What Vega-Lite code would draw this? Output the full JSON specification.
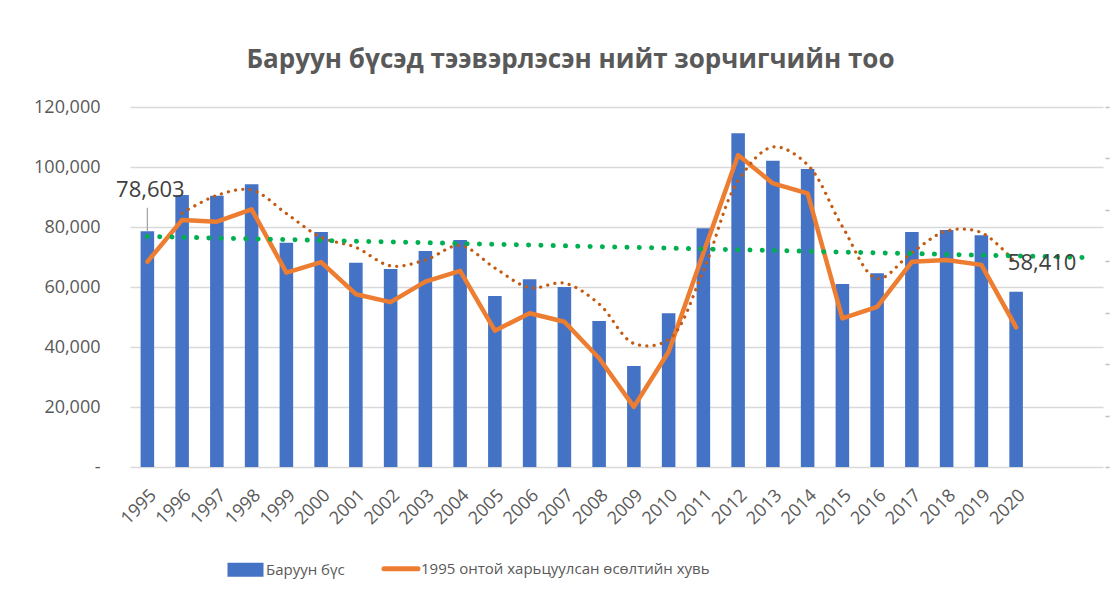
{
  "$schema": "https://vega.github.io/schema/vega-lite/v6.json",
  "width": 973,
  "height": 360,
  "autosize": "none",
  "padding": {"left": 130, "top": 107, "right": 17, "bottom": 134},
  "background": "white",
  "config": {
    "view": {"stroke": null},
    "font": "Open Sans",
    "axis": {"labelFont": "Open Sans", "labelColor": "#595959"},
    "legend": {"labelFont": "Open Sans"}
  },
  "title": {
    "text": "Баруун бүсэд тээвэрлэсэн нийт зорчигчийн тоо",
    "font": "Open Sans",
    "fontSize": 26,
    "fontWeight": "bold",
    "color": "#595959",
    "anchor": "middle",
    "dx": -46,
    "offset": 25
  },
  "data": {
    "values": [
      {"year": "1995", "value": 78603, "pct": 79.8, "ma": null, "trend": 76833},
      {"year": "1996", "value": 90667, "pct": 96.1, "ma": 84635},
      {"year": "1997", "value": 90433, "pct": 95.4, "ma": 90550},
      {"year": "1998", "value": 94233, "pct": 100.2, "ma": 92333},
      {"year": "1999", "value": 74767, "pct": 75.6, "ma": 84500},
      {"year": "2000", "value": 78333, "pct": 79.7, "ma": 76550},
      {"year": "2001", "value": 68100, "pct": 67.2, "ma": 73217},
      {"year": "2002", "value": 66000, "pct": 64.1, "ma": 67050},
      {"year": "2003", "value": 72000, "pct": 72.1, "ma": 69000},
      {"year": "2004", "value": 75667, "pct": 76.3, "ma": 73833},
      {"year": "2005", "value": 57000, "pct": 53.0, "ma": 66333},
      {"year": "2006", "value": 62567, "pct": 59.8, "ma": 59783},
      {"year": "2007", "value": 60000, "pct": 56.5, "ma": 61283},
      {"year": "2008", "value": 48667, "pct": 42.3, "ma": 54333},
      {"year": "2009", "value": 33667, "pct": 23.4, "ma": 41167},
      {"year": "2010", "value": 51233, "pct": 44.8, "ma": 42450},
      {"year": "2011", "value": 79567, "pct": 83.2, "ma": 65400},
      {"year": "2012", "value": 111233, "pct": 121.3, "ma": 95400},
      {"year": "2013", "value": 102100, "pct": 110.3, "ma": 106667},
      {"year": "2014", "value": 99333, "pct": 106.4, "ma": 100717},
      {"year": "2015", "value": 61000, "pct": 57.8, "ma": 80167},
      {"year": "2016", "value": 64567, "pct": 62.3, "ma": 62783},
      {"year": "2017", "value": 78333, "pct": 79.8, "ma": 71450},
      {"year": "2018", "value": 79000, "pct": 80.5, "ma": 78667},
      {"year": "2019", "value": 77233, "pct": 78.6, "ma": 78117},
      {"year": "2020", "value": 58410, "pct": 54.3, "ma": 67822},
      {"year": "2022", "trend": 69833}
    ]
  },
  "encoding": {
    "x": {
      "field": "year",
      "type": "nominal",
      "scale": {
        "domain": ["1995","1996","1997","1998","1999","2000","2001","2002","2003","2004","2005","2006","2007","2008","2009","2010","2011","2012","2013","2014","2015","2016","2017","2018","2019","2020","2021","2022"],
        "paddingInner": 0.61,
        "paddingOuter": 0.305
      },
      "axis": {
        "title": null,
        "labelAngle": -45,
        "labelFontSize": 18,
        "labelPadding": 19,
        "ticks": false,
        "domain": false,
        "labelExpr": "datum.value == '2021' || datum.value == '2022' ? '' : datum.label"
      }
    }
  },
  "layer": [
    {
      "mark": {"type": "bar", "fill": "#4472C4"},
      "encoding": {
        "y": {
          "field": "value",
          "type": "quantitative",
          "scale": {"domain": [0, 120000], "nice": false},
          "axis": {
            "title": null,
            "values": [0, 20000, 40000, 60000, 80000, 100000, 120000],
            "labelFontSize": 18,
            "labelPadding": 30,
            "tickSize": 0,
            "ticks": false,
            "domain": false,
            "grid": true,
            "gridColor": "#D9D9D9",
            "gridWidth": 1.5,
            "labelExpr": "datum.value == 0 ? '-\u00a0\u00a0' : format(datum.value, ',')"
          }
        },
        "color": {
          "datum": "Баруун бүс",
          "type": "nominal",
          "scale": {
            "domain": ["Баруун бүс", "1995 онтой харьцуулсан өсөлтийн хувь"],
            "range": ["#4472C4", "#ED7D31"]
          },
          "legend": {
            "title": null,
            "orient": "none",
            "direction": "horizontal",
            "legendX": 117,
            "legendY": 454,
            "padding": 0,
            "symbolSize": 1296,
            "labelFontSize": 15,
            "labelColor": "#595959",
            "labelOffset": 4,
            "labelLimit": 500,
            "columnPadding": 28,
            "encode": {
              "symbols": {
                "update": {
                  "shape": {"signal": "datum.value == 'Баруун бүс' ? 'M-1.5,-0.39H0.5V0.39H-1.5Z' : 'M-1.42,0H0.47'"},
                  "fill": {"signal": "datum.value == 'Баруун бүс' ? '#4472C4' : 'transparent'"},
                  "stroke": {"signal": "datum.value == 'Баруун бүс' ? 'transparent' : '#ED7D31'"},
                  "strokeWidth": {"signal": "datum.value == 'Баруун бүс' ? 0 : 5"},
                  "strokeCap": {"value": "round"},
                  "opacity": {"value": 1}
                }
              }
            }
          }
        }
      }
    },
    {
      "mark": {"type": "line", "strokeWidth": 4.5, "strokeJoin": "round", "strokeCap": "round"},
      "encoding": {
        "y": {
          "field": "pct",
          "type": "quantitative",
          "scale": {"domain": [0, 140], "nice": false},
          "axis": {
            "orient": "right",
            "title": null,
            "values": [0, 20, 40, 60, 80, 100, 120, 140],
            "labels": false,
            "domain": false,
            "grid": false,
            "ticks": true,
            "tickSize": 4,
            "tickWidth": 1.5,
            "tickColor": "#BFBFBF",
            "offset": 2
          }
        },
        "color": {"datum": "1995 онтой харьцуулсан өсөлтийн хувь", "type": "nominal"}
      }
    },
    {
      "layer": [
        {
          "transform": [{"filter": "isValid(datum.ma)"}],
          "mark": {"type": "line", "stroke": "#C55A11", "strokeWidth": 3.2, "strokeDash": [0.1, 7.2], "strokeCap": "round", "interpolate": "catmull-rom"},
          "encoding": {
            "y": {"field": "ma", "type": "quantitative", "scale": {"domain": [0, 120000], "nice": false}, "axis": null}
          }
        },
        {
          "transform": [{"filter": "isValid(datum.trend)"}],
          "mark": {"type": "line", "stroke": "#00B050", "strokeWidth": 5, "strokeDash": [0.1, 12.2], "strokeCap": "round"},
          "encoding": {
            "y": {"field": "trend", "type": "quantitative", "scale": {"domain": [0, 120000], "nice": false}, "axis": null}
          }
        },
        {
          "transform": [{"filter": "datum.year == '1995'"}],
          "mark": {"type": "rule", "stroke": "#A6A6A6", "strokeWidth": 1.3},
          "encoding": {
            "y": {"field": "value", "type": "quantitative", "scale": {"domain": [0, 120000], "nice": false}, "axis": null},
            "y2": {"datum": 86400}
          }
        },
        {
          "transform": [{"filter": "datum.year == '1995'"}],
          "mark": {"type": "text", "fontSize": 22, "color": "#404040", "dx": 3, "dy": -41, "baseline": "middle", "font": "Open Sans"},
          "encoding": {
            "y": {"field": "value", "type": "quantitative", "scale": {"domain": [0, 120000], "nice": false}, "axis": null},
            "text": {"field": "value", "type": "quantitative", "format": ","}
          }
        },
        {
          "transform": [{"filter": "datum.year == '2020'"}],
          "mark": {"type": "text", "fontSize": 22, "color": "#404040", "dx": 26, "dy": -29, "baseline": "middle", "font": "Open Sans"},
          "encoding": {
            "y": {"field": "value", "type": "quantitative", "scale": {"domain": [0, 120000], "nice": false}, "axis": null},
            "text": {"field": "value", "type": "quantitative", "format": ","}
          }
        }
      ]
    }
  ],
  "resolve": {"scale": {"y": "independent"}}
}
